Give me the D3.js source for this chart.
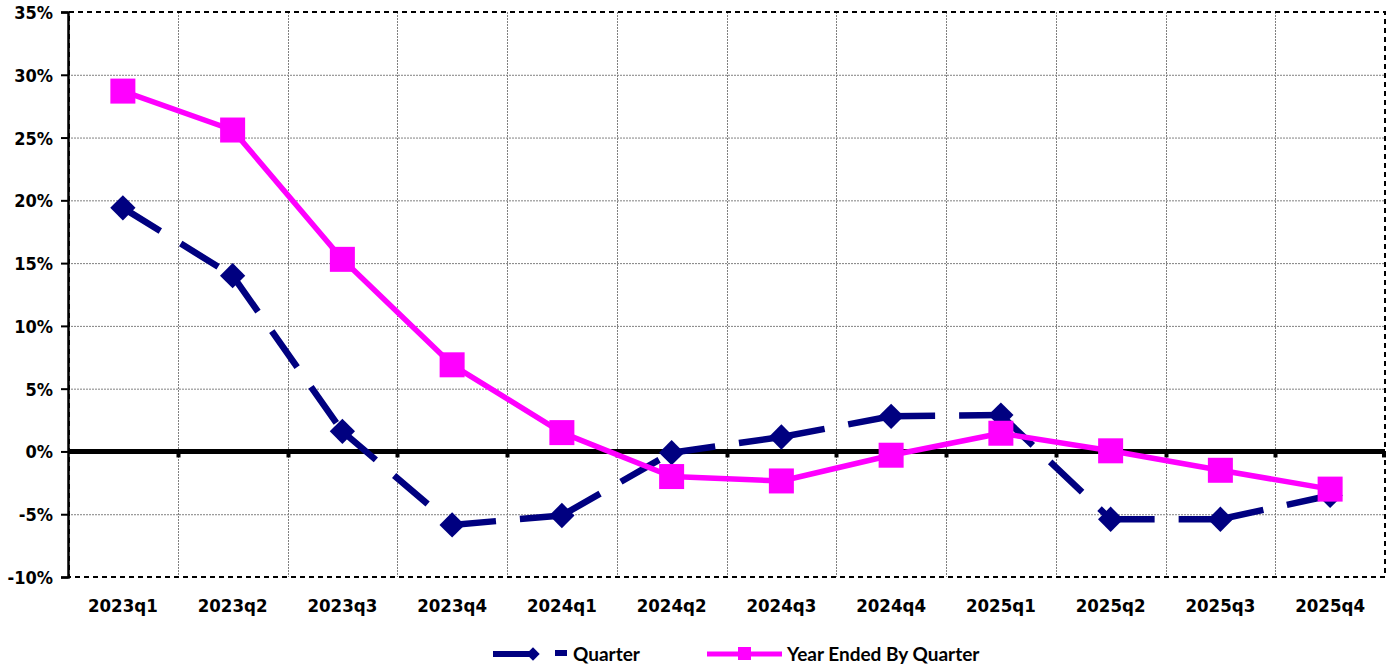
<!DOCTYPE html>
<html>
<head>
<meta charset="utf-8">
<script src="https://cdn.jsdelivr.net/npm/d3@7"></script>
<style>
  html, body { margin: 0; padding: 0; background: #fff; }
  svg { display: block; }
</style>
</head>
<body>
<div id="chart"></div>
<script>
// data
const quarters = ['2023q1', '2023q2', '2023q3', '2023q4', '2024q1', '2024q2',
                  '2024q3', '2024q4', '2025q1', '2025q2', '2025q3', '2025q4'];
const quarterValues = [19.4, 14.0, 1.6, -5.85, -5.1, -0.1, 1.15, 2.8, 2.9, -5.4, -5.4, -3.5];
const yearEndedValues = [28.7, 25.6, 15.3, 6.9, 1.5, -2.0, -2.35, -0.3, 1.45, 0.05, -1.5, -3.0];
const yTicks = [-10, -5, 0, 5, 10, 15, 20, 25, 30, 35];
const seriesNames = ['Quarter', 'Year Ended By Quarter'];

const W = 1393, H = 672;
const margin = {top: 12, right: 8, bottom: 95, left: 68};
const innerW = W - margin.left - margin.right;
const innerH = H - margin.top - margin.bottom;

const navy = '#000080';
const pink = '#FF00FF';
const axisFont = '"DejaVu Sans Condensed", "DejaVu Sans", Verdana, sans-serif';

const svg = d3.select('#chart').append('svg')
    .attr('width', W)
    .attr('height', H);

const g = svg.append('g')
    .attr('transform', `translate(${margin.left},${margin.top})`);

const x = d3.scaleBand().domain(quarters).range([0, innerW]).padding(0);
const y = d3.scaleLinear().domain([-10, 35]).range([innerH, 0]);
const cx = d => x(d) + x.bandwidth() / 2;

// grid
g.append('g')
    .selectAll('line')
    .data(yTicks.filter(t => t !== -10 && t !== 35 && t !== 0))
    .enter()
    .append('line')
    .attr('x1', 0).attr('x2', innerW)
    .attr('y1', d => y(d) + 0.5).attr('y2', d => y(d) + 0.5)
    .attr('stroke', '#808080')
    .attr('stroke-width', 1)
    .attr('stroke-dasharray', '2,1');

g.append('g')
    .selectAll('line')
    .data(quarters.slice(1))
    .enter()
    .append('line')
    .attr('x1', d => Math.round(x(d)) + 0.5).attr('x2', d => Math.round(x(d)) + 0.5)
    .attr('y1', 0).attr('y2', innerH)
    .attr('stroke', '#808080')
    .attr('stroke-width', 1)
    .attr('stroke-dasharray', '2,1');

// plot border (dashed)
g.append('rect')
    .attr('x', 1).attr('y', 0)
    .attr('width', innerW - 1).attr('height', innerH)
    .attr('fill', 'none')
    .attr('stroke', '#000')
    .attr('stroke-width', 2)
    .attr('stroke-dasharray', '5,4');

// y axis
const yAxis = d3.axisLeft(y)
    .tickValues(yTicks)
    .tickSize(7)
    .tickFormat(d => d + '%');

const yG = g.append('g').call(yAxis);
yG.select('.domain').attr('stroke-width', 2.5).attr('stroke', '#000');
yG.selectAll('.tick line').attr('stroke-width', 2);
yG.selectAll('.tick text')
    .attr('x', -15)
    .attr('dy', '0.36em')
    .style('font-family', axisFont)
    .style('font-weight', 'bold')
    .style('font-size', '18px')
    .attr('fill', '#000');

// zero line with category ticks
const zeroG = g.append('g').attr('transform', `translate(0,${y(0)})`);
zeroG.append('g')
    .selectAll('line')
    .data(quarters.slice(1).concat(['end']))
    .enter()
    .append('line')
    .attr('x1', d => d === 'end' ? innerW - 1 : Math.round(x(d)) + 0.5)
    .attr('x2', d => d === 'end' ? innerW - 1 : Math.round(x(d)) + 0.5)
    .attr('y1', 0).attr('y2', 6)
    .attr('stroke', '#000')
    .attr('stroke-width', 4);
zeroG.append('line')
    .attr('x1', 0).attr('x2', innerW)
    .attr('y1', 0).attr('y2', 0)
    .attr('stroke', '#000')
    .attr('stroke-width', 5);

// x labels
g.append('g')
    .selectAll('text')
    .data(quarters)
    .enter()
    .append('text')
    .attr('x', cx)
    .attr('y', innerH + 35)
    .attr('text-anchor', 'middle')
    .style('font-family', axisFont)
    .style('font-weight', 'bold')
    .style('font-size', '18.5px')
    .text(d => d);

// Quarter series: dashed segments, pattern restarts per segment
const qPts = quarters.map((q, i) => [cx(q), y(quarterValues[i])]);
g.append('g')
    .selectAll('line')
    .data(d3.pairs(qPts))
    .enter()
    .append('line')
    .attr('x1', d => d[0][0]).attr('y1', d => d[0][1])
    .attr('x2', d => d[1][0]).attr('y2', d => d[1][1])
    .attr('stroke', navy)
    .attr('stroke-width', 6.5)
    .attr('stroke-dasharray', '44,24');

const diamond = d3.symbol().type(d3.symbolSquare).size(320);
g.append('g')
    .selectAll('path')
    .data(qPts)
    .enter()
    .append('path')
    .attr('d', diamond)
    .attr('transform', d => `translate(${d[0]},${d[1]}) rotate(45)`)
    .attr('fill', navy);

// Year ended series
const line = d3.line().x((d, i) => cx(quarters[i])).y(d => y(d));
g.append('path')
    .datum(yearEndedValues)
    .attr('d', line)
    .attr('fill', 'none')
    .attr('stroke', pink)
    .attr('stroke-width', 5.5)
    .attr('stroke-linejoin', 'round');

g.append('g')
    .selectAll('rect')
    .data(yearEndedValues)
    .enter()
    .append('rect')
    .attr('x', (d, i) => cx(quarters[i]) - 12.5)
    .attr('y', d => y(d) - 12.5)
    .attr('width', 25).attr('height', 25)
    .attr('fill', pink);

// legend
const legY = 654;
const leg = svg.append('g');
leg.append('line')
    .attr('x1', 493).attr('x2', 534).attr('y1', legY).attr('y2', legY)
    .attr('stroke', navy).attr('stroke-width', 6);
leg.append('path')
    .attr('d', d3.symbol().type(d3.symbolSquare).size(90))
    .attr('transform', `translate(533,${legY}) rotate(45)`)
    .attr('fill', navy);
leg.append('line')
    .attr('x1', 555).attr('x2', 567).attr('y1', legY - 1).attr('y2', legY - 1)
    .attr('stroke', navy).attr('stroke-width', 6);
leg.append('line')
    .attr('x1', 707).attr('x2', 782).attr('y1', legY).attr('y2', legY)
    .attr('stroke', pink).attr('stroke-width', 5);
leg.append('rect')
    .attr('x', 738).attr('y', legY - 7).attr('width', 13).attr('height', 13)
    .attr('fill', pink);

leg.selectAll('text')
    .data(seriesNames)
    .enter()
    .append('text')
    .attr('x', (d, i) => i === 0 ? 573 : 787)
    .attr('y', legY + 7)
    .style('font-family', 'Lato, "Open Sans", sans-serif')
    .style('font-weight', 'bold')
    .style('font-size', '19px')
    .text(d => d);
</script>
</body>
</html>
